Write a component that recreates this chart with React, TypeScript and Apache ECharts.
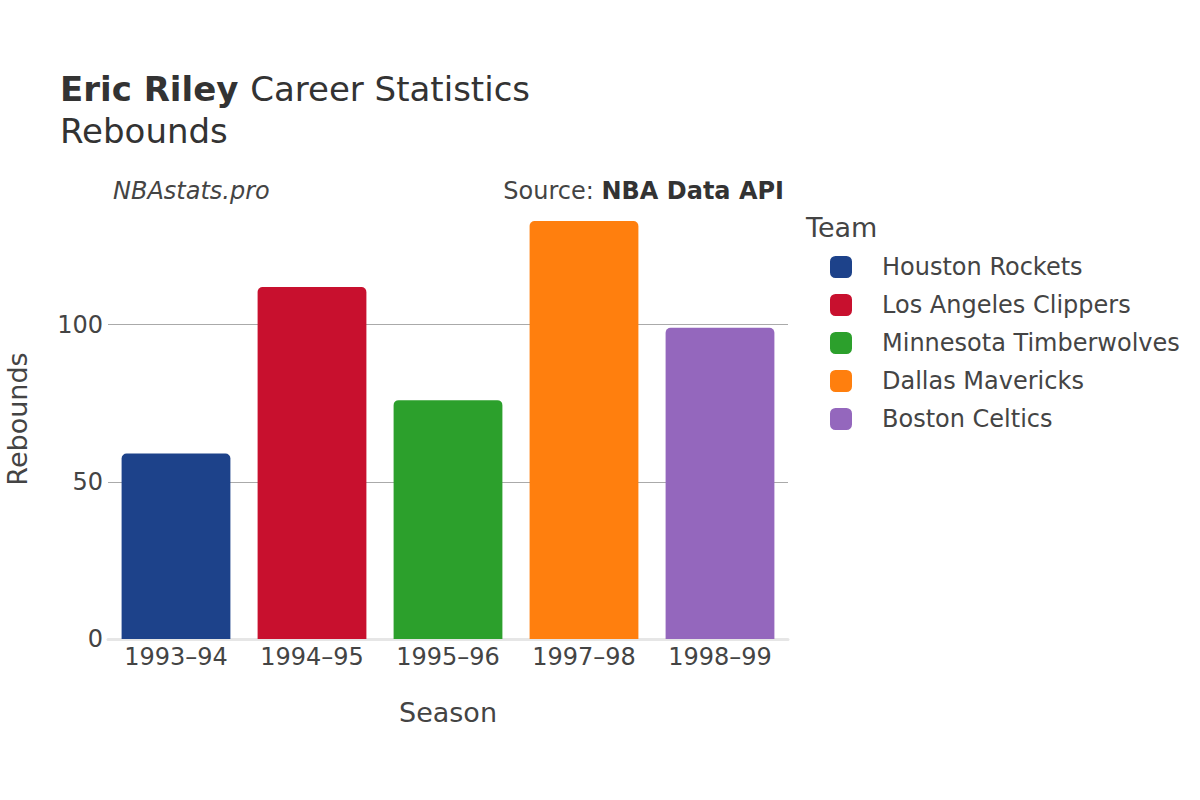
import React, { useEffect, useRef } from "react";
import * as echarts from "echarts";

const seasons = ["1993–94", "1994–95", "1995–96", "1997–98", "1998–99"];
const teams = [
  "Houston Rockets",
  "Los Angeles Clippers",
  "Minnesota Timberwolves",
  "Dallas Mavericks",
  "Boston Celtics",
];
const rebounds = [59, 112, 76, 133, 99];
const teamColors = ["#1d428a", "#c8102e", "#2ca02c", "#ff7f0e", "#9467bd"];
const yTicks = [0, 50, 100];

const FONT = "DejaVu Sans";
const TXT = "#444";

export default function App() {
  const ref = useRef<HTMLDivElement>(null);
  useEffect(() => {
    if (!ref.current) return;
    const chart = echarts.init(ref.current, null, { renderer: "svg" });
    const series = teams.map((team, k) => ({
      name: team,
      type: "bar",
      stack: "total",
      barCategoryGap: "20%",
      itemStyle: { color: teamColors[k], borderRadius: [5, 5, 0, 0] },
      data: seasons.map((_, i) => (i === k ? rebounds[i] : "-")),
    }));
    chart.setOption({
      animation: false,
      textStyle: { fontFamily: FONT, color: TXT },
      grid: { left: 108, right: 412, top: 199, bottom: 161, containLabel: false, outerBoundsMode: "none" },
      xAxis: {
        type: "category",
        data: seasons,
        axisTick: { show: false },
        axisLine: { lineStyle: { color: "#e6e6e6", width: 3 } },
        axisLabel: { fontSize: 24, color: TXT, margin: 6, fontFamily: FONT },
        name: "Season",
        nameLocation: "middle",
        nameGap: 60,
        nameTextStyle: { fontSize: 27, color: TXT, fontFamily: FONT },
      },
      yAxis: {
        type: "value",
        min: 0,
        max: 140,
        interval: 50,
        axisLine: { show: false },
        axisTick: { show: false },
        axisLabel: {
          fontSize: 24,
          color: TXT,
          margin: 5,
          fontFamily: FONT,
          showMaxLabel: false,
          formatter: (v: number) => (yTicks.includes(v) ? String(v) : ""),
        },
        splitLine: { show: true, showMaxLine: false, lineStyle: { color: "#aaa", width: 1 } },
        name: "Rebounds",
        nameLocation: "middle",
        nameGap: 77,
        nameTextStyle: { fontSize: 27, color: TXT, fontFamily: FONT },
      },
      legend: {
        orient: "vertical",
        left: 830,
        top: 255,
        padding: 0,
        itemWidth: 22,
        itemHeight: 22,
        itemGap: 14,
        icon: "roundRect",
        data: teams,
        textStyle: { fontSize: 24, color: TXT, fontFamily: FONT, padding: [0, 0, 0, 25] },
      },
      graphic: [
        {
          type: "text",
          x: 60,
          y: 89,
          style: {
            text: "{b|Eric Riley }{r|Career Statistics}",
            verticalAlign: "middle",
            rich: {
              b: { fontSize: 34, fontWeight: "bold", fill: "#333", fontFamily: FONT },
              r: { fontSize: 34, fill: "#333", fontFamily: FONT },
            },
          },
        },
        {
          type: "text",
          x: 60,
          y: 131,
          style: { text: "Rebounds", fontSize: 34, fill: "#333", fontFamily: FONT, verticalAlign: "middle" },
        },
        {
          type: "text",
          x: 113,
          y: 191,
          style: { text: "NBAstats.pro", fontSize: 24, fontStyle: "italic", fill: TXT, fontFamily: FONT, verticalAlign: "middle" },
        },
        {
          type: "text",
          x: 784,
          y: 191,
          style: {
            text: "Source: {b|NBA Data API}",
            align: "right",
            verticalAlign: "middle",
            fontSize: 24,
            fill: TXT,
            fontFamily: FONT,
            rich: { b: { fontSize: 24, fontWeight: "bold", fill: "#333", fontFamily: FONT } },
          },
        },
        {
          type: "text",
          x: 806,
          y: 227,
          style: { text: "Team", fontSize: 27, fill: TXT, fontFamily: FONT, verticalAlign: "middle" },
        },
      ],
      series,
    });
    return () => chart.dispose();
  }, []);
  return (
    <div
      ref={ref}
      style={{ position: "fixed", left: 0, top: 0, width: 1200, height: 800, background: "#fff" }}
    />
  );
}
